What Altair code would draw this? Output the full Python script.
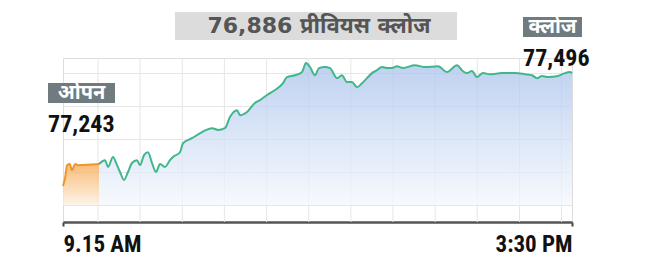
import altair as alt
import pandas as pd

# ---- data (minutes after 9:15, index level) ----
pre_t = [0, 1.5, 3, 5, 6.5, 9, 11, 26.5]
pre_v = [77182, 77204, 77240, 77243, 77226, 77243, 77240, 77243]

main_t = [26.5, 27.3, 30.9, 33.2, 36.8, 39.8, 42.0, 44.9, 47.9, 50.8, 54.5, 56.7, 59.7, 62.6,
          65.6, 68.5, 71.5, 75.1, 78.8, 81.0, 86.2, 88.4, 95.0, 102.4, 109.8, 114.2, 119.3,
          123.0, 128.2, 130.4, 135.6, 141.4, 145.1, 150.3, 156.2, 162.1, 165.0, 170.9, 176.1,
          179.0, 182.0, 185.6, 188.6, 193.0, 196.7, 201.9, 205.5, 209.2, 212.9, 216.6, 220.3,
          224.0, 227.6, 231.3, 235.0, 238.7, 242.4, 246.1, 250.5, 259.3, 266.7, 276.3, 282.9,
          290.3, 293.9, 297.6, 301.3, 305.0, 309.4, 314.6, 323.4, 333.0, 340.3, 345.5, 349.2,
          352.9, 357.3, 364.7, 369.8, 373.5, 375]
main_v = [77243, 77246, 77254, 77235, 77263, 77240, 77221, 77199, 77221, 77246, 77254, 77240,
          77268, 77276, 77246, 77221, 77243, 77235, 77254, 77263, 77276, 77301, 77315, 77332,
          77343, 77338, 77343, 77374, 77393, 77379, 77388, 77413, 77421, 77435, 77449, 77468,
          77485, 77490, 77499, 77524, 77513, 77490, 77510, 77513, 77510, 77482, 77490, 77471,
          77471, 77457, 77468, 77482, 77496, 77504, 77513, 77510, 77510, 77515, 77510, 77518,
          77513, 77515, 77499, 77518, 77504, 77496, 77502, 77485, 77496, 77493, 77496, 77496,
          77493, 77490, 77482, 77488, 77485, 77488, 77496, 77499, 77496]

x_grid = [25.8, 56.8, 87.9, 118.9, 150.0, 181.0, 212.1, 243.1, 274.2, 305.2, 336.3, 367.3]
y_grid = [77129, 77220, 77312, 77404, 77496]
x_tick_values = [0, 375]
x_tick_labels = ["9.15 AM", "3:30 PM"]
baseline_value = 77129

prev_close_text = "76,886 प्रीवियस क्लोज"
open_label = "ओपन"
open_value = "77,243"
close_label = "क्लोज"
close_value = "77,496"

pre_df = pd.DataFrame({"t": pre_t, "v": pre_v})
main_df = pd.DataFrame({"t": main_t, "v": main_v})
grid_df = pd.DataFrame({"t": x_grid})
one = pd.DataFrame({"a": [0]})

COND = "'Roboto Condensed', 'Roboto', sans-serif"
DEVA = "'Noto Sans Devanagari', 'Lohit Devanagari', 'Noto Sans', sans-serif"

xscale = alt.Scale(domain=[0, 375], nice=False, zero=False)
yscale = alt.Scale(domain=[77082, 77538], nice=False, zero=False)

label_expr = f"datum.value == 0 ? '{x_tick_labels[0]}' : '{x_tick_labels[1]}'"

X = alt.X("t:Q", scale=xscale, axis=alt.Axis(
    values=x_tick_values, grid=False, title=None, labelFlush=True, labelExpr=label_expr,
    domainColor="#555555", domainWidth=2.5, tickColor="#444444", tickWidth=2, tickSize=4,
    labelFont=COND, labelFontSize=23, labelFontWeight="bold", labelColor="#111111",
    labelPadding=7, labelBaseline="top"))
Y = alt.Y("v:Q", scale=yscale, axis=alt.Axis(
    values=y_grid, grid=True, gridColor="#e6e6e6", gridWidth=1, labels=False, ticks=False,
    domain=False, title=None))

vgrid = alt.Chart(grid_df).mark_rule(color="#e6e6e6", strokeWidth=1).encode(
    x=X, y=alt.value(0), y2=alt.value(164))

blue_grad = alt.Gradient(gradient="linear", x1=0, y1=0, x2=0, y2=1,
                         stops=[alt.GradientStop(offset=0, color="#a9c2ec"),
                                alt.GradientStop(offset=1, color="#f4f8fd")])
orange_grad = alt.Gradient(gradient="linear", x1=0, y1=0, x2=0, y2=1,
                           stops=[alt.GradientStop(offset=0, color="#f7ac58"),
                                  alt.GradientStop(offset=1, color="#fdf1e2")])

pre_area = alt.Chart(pre_df).mark_area(color=orange_grad, opacity=0.8, interpolate="monotone").encode(
    x=X, y=Y, y2=alt.datum(baseline_value))
main_area = alt.Chart(main_df).mark_area(color=blue_grad, opacity=0.75, interpolate="monotone").encode(
    x=X, y=Y, y2=alt.datum(baseline_value))
pre_line = alt.Chart(pre_df).mark_line(color="#f0952c", strokeWidth=2, interpolate="monotone").encode(x=X, y=Y)
main_line = alt.Chart(main_df).mark_line(color="#3fb78a", strokeWidth=2, interpolate="monotone").encode(x=X, y=Y)

def box(x1, x2, y1, y2, color):
    return alt.Chart(one).mark_rect(color=color).encode(
        x=alt.value(x1), x2=alt.value(x2), y=alt.value(y1), y2=alt.value(y2))

def txt(text, x, y, size, color, font, align="center", baseline="middle"):
    return alt.Chart(one).mark_text(text=text, fontSize=size, fontWeight="bold", color=color,
                                    font=font, align=align, baseline=baseline).encode(
        x=alt.value(x), y=alt.value(y))

annot = [
    box(112, 394, -46, -18, "#dcdcdc"),
    txt(prev_close_text, 256, -32, 22, "#555555", "'DejaVu Sans', " + DEVA),
    box(-15, 52, 25, 45, "#6f7b7e"),
    txt(open_label, 18.5, 35, 20, "#ffffff", DEVA),
    txt(open_value, -15, 74, 24, "#111111", COND, align="left", baseline="alphabetic"),
    box(460, 519, -41, -21, "#6f7b7e"),
    txt(close_label, 489.5, -31, 20, "#ffffff", DEVA),
    txt(close_value, 460, 8, 24, "#111111", COND, align="left", baseline="alphabetic"),
]

chart = alt.layer(vgrid, pre_area, main_area, pre_line, main_line, *annot).properties(
    width=509, height=164,
    autosize=alt.AutoSizeParams(type="none"),
    padding={"left": 55, "top": 50, "right": 70, "bottom": 38},
).configure_view(stroke=None).configure(background="#ffffff")

chart.save("out.html", embed_options={"renderer": "svg", "actions": False})
